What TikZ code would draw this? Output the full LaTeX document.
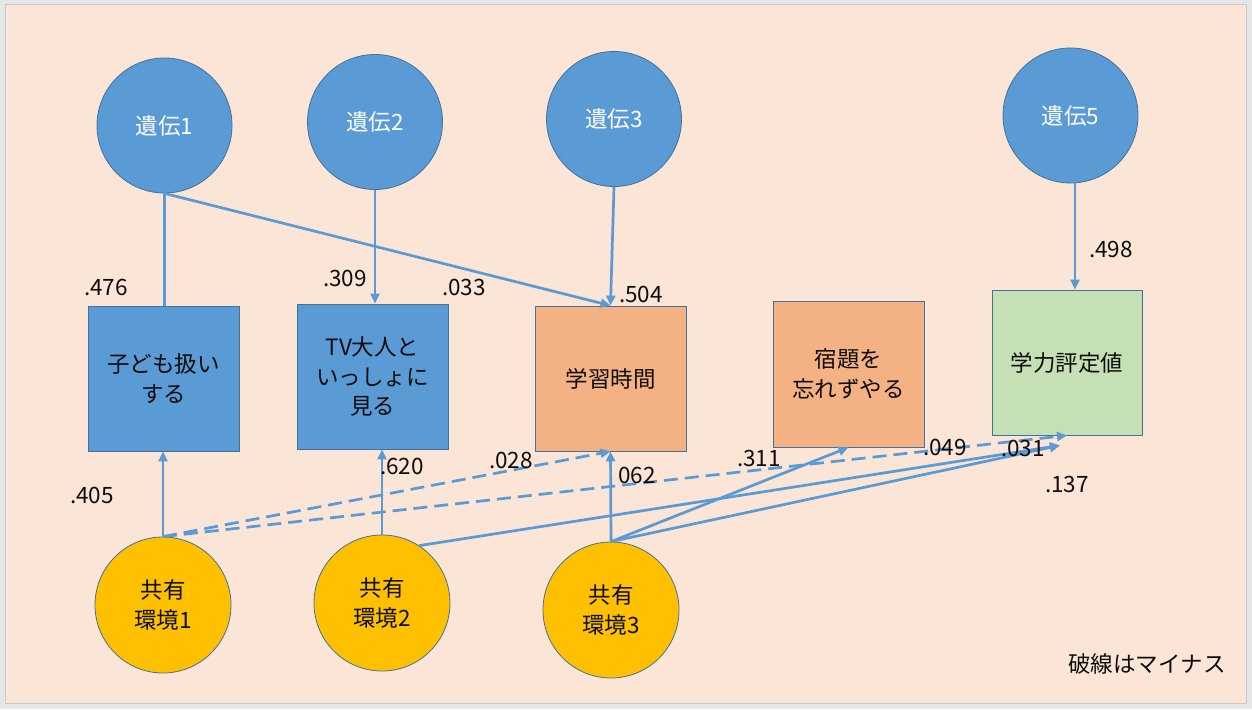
\documentclass[tikz,border=0pt]{standalone}
\usepackage{fontspec}
\setmainfont{Noto Sans CJK JP}
\usetikzlibrary{arrows.meta,calc}
\definecolor{peach}{HTML}{FBE5D6}
\definecolor{outergray}{HTML}{E6E6E6}
\definecolor{framegray}{HTML}{C8C8C8}
\definecolor{nodeblue}{HTML}{5B9BD5}
\definecolor{edgeblue}{HTML}{41719C}
\definecolor{lineblue}{HTML}{5B9BD5}
\definecolor{nodeorange}{HTML}{F4B183}
\definecolor{nodegreen}{HTML}{C5E0B4}
\definecolor{nodeyellow}{HTML}{FFC000}
\definecolor{txt}{HTML}{0D0D0D}
\tikzset{
  jp/.style={font=\fontsize{22.5}{29.5}\selectfont},
  gene/.style={circle, draw=edgeblue, line width=0.8pt, fill=nodeblue, text=white, jp, minimum size=135pt, inner sep=0pt},
  env/.style={circle, draw=edgeblue, line width=0.8pt, fill=nodeyellow, text=txt, jp, minimum size=136pt, inner sep=0pt, align=center},
  varbox/.style={rectangle, draw=edgeblue, line width=0.8pt, text=txt, jp, minimum width=151pt, minimum height=145pt, inner sep=0pt, align=center},
  lbl/.style={text=txt, jp, inner sep=0pt},
  conn/.style={draw=lineblue, line width=2.7pt},
  arr/.style={conn, -{Triangle[length=10pt,width=9pt]}},
  neg/.style={dash pattern=on 14pt off 7pt}
}
\begin{document}
\begin{tikzpicture}[x=1pt,y=-1pt]
\useasboundingbox (0,0) rectangle (1252,709);
\fill[outergray] (0,0) rectangle (1252,709);
\draw[framegray, fill=peach, line width=1pt] (5.5,4.5) rectangle (1246,703);

% genetic factors
\node[gene] (g1) at (164.5,125.5) {遺伝1};
\node[gene] (g2) at (375,122) {遺伝2};
\node[gene] (g3) at (614,119) {遺伝3};
\node[gene] (g5) at (1070.5,115.5) {遺伝5};

% observed variables
\node[varbox, fill=nodeblue] (kid) at (163.5,378.5) {子ども扱い\\する};
\node[varbox, fill=nodeblue] (tv) at (372.5,376.5) {TV大人と\\いっしょに\\見る};
\node[varbox, fill=nodeorange] (study) at (610.5,378.5) {学習時間};
\node[varbox, fill=nodeorange, minimum height=146pt] (hw) at (848.5,374) {宿題を\\忘れずやる};
\node[varbox, fill=nodegreen, minimum width=150pt] (grade) at (1067,362.5) {学力評定値};

% shared environment
\node[env] (e1) at (163,605) {共有\\環境1};
\node[env] (e2) at (382,603) {共有\\環境2};
\node[env] (e3) at (611,610) {共有\\環境3};

\coordinate (gradein) at ($(grade.south)+(-7,10)$);

% connectors from genetic factors
\draw[conn] (g1.south) -- (g1.south |- kid.north);
\draw[arr] (g1.south) -- (study.north);
\draw[arr] (g2.south) -- (g2.south |- tv.north);
\draw[arr] (g3.south) -- (study.north);
\draw[arr] ([xshift=4.5pt]g5.south) -- ([xshift=4.5pt]g5.south |- grade.north);

% connectors from shared environment
\draw[arr] (e1.north) -- (e1.north |- kid.south);
\draw[arr, neg] (e1.north) -- (study.south);
\draw[arr, neg] (e1.north) -- (grade.south);
\draw[arr] (e2.north) -- (e2.north |- tv.south);
\draw[arr] (e2.57) -- (gradein);
\draw[arr] (e3.north) -- (study.south);
\draw[arr] (e3.north) -- (hw.south);
\draw[arr] (e3.north) -- (gradein);

% coefficient labels
\node[lbl] (l476) at (106,287) {.476};
\node[lbl] (l309) at (345,278) {.309};
\node[lbl] (l033) at (464,287) {.033};
\node[lbl] (l504) at (641,294) {.504};
\node[lbl] (l498) at (1111,249) {.498};
\node[lbl] (l405) at (92,495) {.405};
\node[lbl] (l620) at (402,466) {.620};
\node[lbl] (l028) at (511,460) {.028};
\node[lbl] (l062) at (637,475) {062};
\node[lbl] (l311) at (759,458) {.311};
\node[lbl] (l049) at (945,447) {.049};
\node[lbl] (l031) at (1023,448) {.031};
\node[lbl] (l137) at (1067,484) {.137};

\node[lbl] (note) at (1147,664) {破線はマイナス};
\end{tikzpicture}
\end{document}
